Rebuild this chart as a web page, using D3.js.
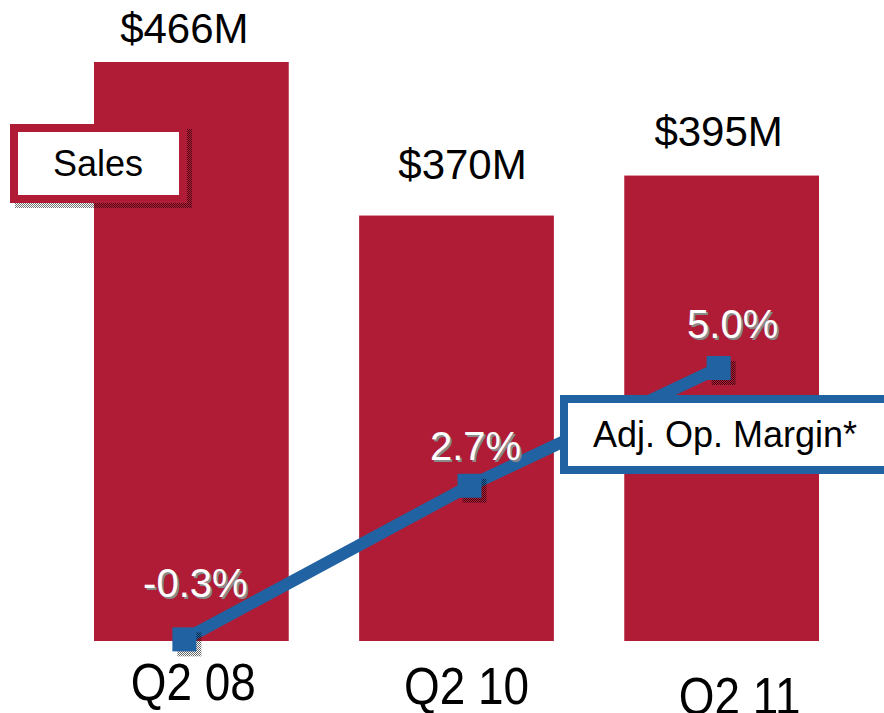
<!DOCTYPE html>
<html>
<head>
<meta charset="utf-8">
<script src="https://cdn.jsdelivr.net/npm/d3@7"></script>
<style>
  html, body { margin: 0; padding: 0; background: #fff; overflow: hidden; }
  text { font-family: "Liberation Sans", Arial, Helvetica, sans-serif; }
</style>
</head>
<body>
<div id="container"></div>
<script>
// chart data
var periods = ['Q2 08', 'Q2 10', 'Q2 11']
var sales = [466, 370, 395]
var salesLabels = ['$466M', '$370M', '$395M']
var margin = [-0.3, 2.7, 5.0]
var marginLabels = ['-0.3%', '2.7%', '5.0%']
var legendNames = ['Sales', 'Adj. Op. Margin*']

var width = 884
var height = 713
var red = '#B01C35'
var blue = '#2163A2'

// hand placed label nudges, as in the original slide
var salesLabelShift = [-7, 6, -3]
var salesLabelGap = [19, 37, 30]
var markerShift = [-7, 13, -3]
var pctShift = [11, 6, 14]
var pctGap = [42, 26, 30]
var periodShift = [2, 10, 18]
var periodDrop = [59, 63, 73]

var svg = d3.select('#container').append('svg')
  .attr('width', width)
  .attr('height', height)

// dotted shadow pattern
var defs = svg.append('defs')
var pat = defs.append('pattern')
  .attr('id', 'dots')
  .attr('width', 2).attr('height', 2)
  .attr('patternUnits', 'userSpaceOnUse')
pat.append('rect').attr('width', 1).attr('height', 1).attr('fill', '#000')
pat.append('rect').attr('x', 1).attr('y', 1).attr('width', 1).attr('height', 1).attr('fill', '#000')

var x = d3.scaleBand()
  .domain(periods)
  .range([94, 819])
  .paddingInner(0.2655)
  .paddingOuter(0)

var y = d3.scaleLinear()
  .domain([104, 466])
  .range([641, 62])

var yMargin = d3.scaleLinear()
  .domain([0, 5])
  .range([624, 368])

var cx = function (d, i) { return x(periods[i]) + x.bandwidth() / 2 }

// bars
svg.append('g').selectAll('rect')
  .data(sales)
  .enter().append('rect')
  .attr('x', function (d, i) { return x(periods[i]) })
  .attr('y', function (d) { return y(d) })
  .attr('width', x.bandwidth())
  .attr('height', function (d) { return y.range()[0] - y(d) })
  .attr('fill', red)

// sales value labels
svg.append('g').selectAll('text')
  .data(sales)
  .enter().append('text')
  .attr('x', function (d, i) { return cx(d, i) + salesLabelShift[i] })
  .attr('y', function (d, i) { return y(d) - salesLabelGap[i] })
  .attr('text-anchor', 'middle')
  .attr('font-size', 42)
  .attr('fill', '#000')
  .text(function (d, i) { return salesLabels[i] })

// period labels, a bit narrow
svg.append('g').selectAll('text')
  .data(periods)
  .enter().append('text')
  .attr('transform', function (d, i) {
    return 'translate(' + (cx(d, i) + periodShift[i]) + ',' + (y.range()[0] + periodDrop[i]) + ') scale(0.9,1)'
  })
  .attr('text-anchor', 'middle')
  .attr('font-size', 51)
  .attr('fill', '#000')
  .text(function (d) { return d })

// Sales legend box
var salesBox = svg.append('g')
salesBox.append('rect')
  .attr('x', 15).attr('y', 129).attr('width', 177).attr('height', 79)
  .attr('fill', 'url(#dots)').attr('opacity', 0.55)
salesBox.append('rect')
  .attr('x', 14).attr('y', 128).attr('width', 169).attr('height', 71)
  .attr('fill', '#fff').attr('stroke', red).attr('stroke-width', 8)
salesBox.append('text')
  .attr('x', 98).attr('y', 176)
  .attr('text-anchor', 'middle')
  .attr('font-size', 36)
  .text(legendNames[0])

// margin line
var pts = margin.map(function (d, i) {
  return [cx(d, i) + markerShift[i], yMargin(d)]
})

svg.append('path')
  .datum(pts)
  .attr('d', d3.line())
  .attr('fill', 'none')
  .attr('stroke', blue)
  .attr('stroke-width', 12)

var markers = svg.append('g').selectAll('g')
  .data(pts)
  .enter().append('g')
markers.append('rect')
  .attr('x', function (d) { return d[0] - 7 })
  .attr('y', function (d) { return d[1] - 7 })
  .attr('width', 24).attr('height', 24)
  .attr('fill', 'url(#dots)').attr('opacity', 0.6)
markers.append('rect')
  .attr('x', function (d) { return d[0] - 12 })
  .attr('y', function (d) { return d[1] - 12 })
  .attr('width', 24).attr('height', 24)
  .attr('fill', blue)

// margin labels: white with grey drop shadow
var pct = svg.append('g').selectAll('g')
  .data(margin)
  .enter().append('g')
  .attr('transform', function (d, i) {
    return 'translate(' + (pts[i][0] + pctShift[i]) + ',' + (pts[i][1] - pctGap[i]) + ')'
  })
pct.append('text')
  .attr('x', 2).attr('y', 2)
  .attr('text-anchor', 'middle')
  .attr('font-size', 40)
  .attr('fill', '#8a8a8a')
  .text(function (d, i) { return marginLabels[i] })
pct.append('text')
  .attr('text-anchor', 'middle')
  .attr('font-size', 40)
  .attr('fill', '#fff')
  .text(function (d, i) { return marginLabels[i] })

// Adj. Op. Margin legend box
var marginBox = svg.append('g')
marginBox.append('rect')
  .attr('x', 564).attr('y', 399).attr('width', 340).attr('height', 71)
  .attr('fill', '#fff').attr('stroke', blue).attr('stroke-width', 8)
marginBox.append('text')
  .attr('x', 593).attr('y', 447)
  .attr('font-size', 36)
  .text(legendNames[1])
</script>
</body>
</html>
